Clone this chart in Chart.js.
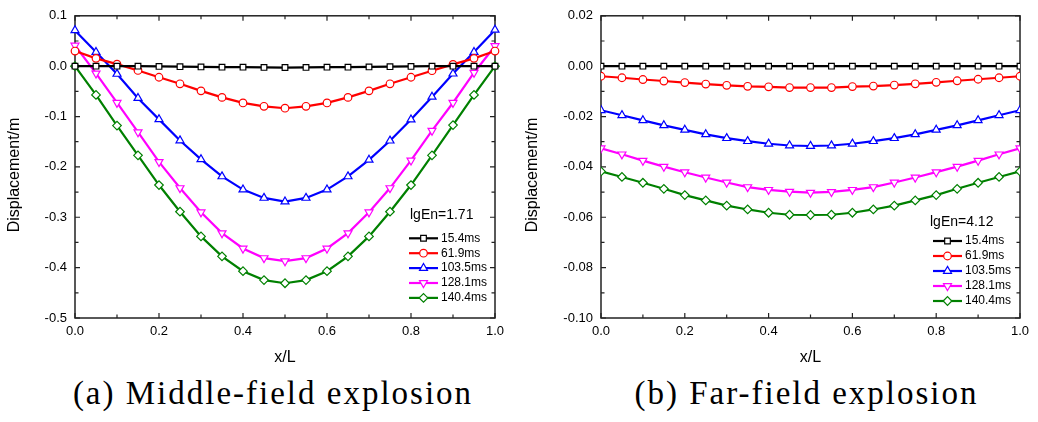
<!DOCTYPE html>
<html>
<head>
<meta charset="utf-8">
<script src="https://cdn.jsdelivr.net/npm/chart.js@4.4.1/dist/chart.umd.min.js"></script>
<style>
  body { margin: 0; background: #fff; width: 1038px; height: 422px; position: relative; overflow: hidden; }
  .panel { position: absolute; top: 0; }
  .caption {
    position: absolute; top: 377px; height: 40px; line-height: 33px;
    font-family: "Liberation Serif", "Times New Roman", serif; font-size: 33px;
    letter-spacing: 2px; white-space: nowrap; text-align: center; color: #000;
  }
</style>
</head>
<body>
<canvas id="mid" class="panel" width="519" height="375" style="left:0"></canvas>
<canvas id="far" class="panel" width="519" height="375" style="left:519px"></canvas>
<div class="caption" style="left:23px;width:500px">(a) Middle-field explosion</div>
<div class="caption" style="left:556px;width:501px">(b) Far-field explosion</div>

<script>
// positions along the beam (x/L)
const xL = [0, 0.05, 0.1, 0.15, 0.2, 0.25, 0.3, 0.35, 0.4, 0.45, 0.5,
            0.55, 0.6, 0.65, 0.7, 0.75, 0.8, 0.85, 0.9, 0.95, 1.0];
const timeLabels = ['15.4ms', '61.9ms', '103.5ms', '128.1ms', '140.4ms'];

// (a) middle-field, lgEn=1.71
const mid154  = [0, 0, 0, 0, -0.0005, -0.001, -0.0015, -0.002, -0.002, -0.0025, -0.0027,
                 -0.0025, -0.002, -0.002, -0.0015, -0.001, -0.0005, 0, 0, 0, 0];
const mid619  = [0.030, 0.0155, 0.004, -0.0085, -0.022, -0.035, -0.049, -0.062, -0.073, -0.0797, -0.0835,
                 -0.0797, -0.073, -0.062, -0.049, -0.035, -0.022, -0.009, 0.0035, 0.0155, 0.030];
const mid1035 = [0.071, 0.028, -0.0155, -0.0635, -0.1056, -0.1476, -0.185, -0.219, -0.245, -0.2616, -0.269,
                 -0.2616, -0.245, -0.219, -0.186, -0.148, -0.106, -0.061, -0.015, 0.028, 0.072];
const mid1281 = [0.041, -0.0143, -0.0726, -0.131, -0.190, -0.242, -0.290, -0.3315, -0.362, -0.381, -0.387,
                 -0.381, -0.362, -0.3315, -0.290, -0.242, -0.187, -0.128, -0.0726, -0.013, 0.040];
const mid1404 = [0, -0.057, -0.118, -0.177, -0.236, -0.289, -0.338, -0.3775, -0.407, -0.4247, -0.431,
                 -0.4247, -0.407, -0.3775, -0.338, -0.289, -0.236, -0.177, -0.117, -0.057, 0];

// (b) far-field, lgEn=4.12
const far154  = [0, 0, 0, 0, 0, 0, 0, 0, 0, 0, 0, 0, 0, 0, 0, 0, 0, 0, 0, 0, 0];
const far619  = [-0.0040, -0.0046, -0.0053, -0.0059, -0.0065, -0.0071, -0.0076, -0.0080, -0.0082, -0.0085, -0.0085,
                 -0.0085, -0.0081, -0.0079, -0.0075, -0.0070, -0.0064, -0.0058, -0.0052, -0.0046, -0.0040];
const far1035 = [-0.0175, -0.0195, -0.0215, -0.0235, -0.0253, -0.0271, -0.0286, -0.0298, -0.0308, -0.0315, -0.0317,
                 -0.0315, -0.0308, -0.0298, -0.0286, -0.0271, -0.0253, -0.0235, -0.0215, -0.0195, -0.0175];
const far1281 = [-0.0326, -0.035, -0.0375, -0.0399, -0.0421, -0.0442, -0.0462, -0.048, -0.0491, -0.0498, -0.0502,
                 -0.0499, -0.0491, -0.048, -0.0462, -0.0442, -0.0421, -0.0399, -0.0375, -0.035, -0.0326];
const far1404 = [-0.0418, -0.044, -0.0463, -0.0487, -0.0512, -0.0533, -0.0554, -0.0569, -0.0582, -0.059, -0.0591,
                 -0.059, -0.0582, -0.0569, -0.0554, -0.0533, -0.0512, -0.0487, -0.0463, -0.044, -0.0418];

// line / marker look of each series
const looks = [
  { color: '#000000', shape: 'rect',     radius: 4,   rot: 0 },
  { color: '#ff0000', shape: 'circle',   radius: 3.8, rot: 0 },
  { color: '#0000ff', shape: 'triangle', radius: 4.6, rot: 0 },
  { color: '#ff00ff', shape: 'triangle', radius: 4.6, rot: 180 },
  { color: '#008000', shape: 'rectRot',  radius: 4.3, rot: 0 }
];

Chart.defaults.font.family = '"Liberation Sans", Arial, sans-serif';
Chart.defaults.color = '#000';

// box round the plot with inward ticks on all four sides
const frameTicks = {
  id: 'frameTicks',
  beforeDatasetsDraw(chart, args, o) {
    const { ctx, chartArea: a, scales: { x, y } } = chart;
    ctx.save();
    ctx.strokeStyle = '#222';
    ctx.lineWidth = 1.5;
    ctx.strokeRect(a.left, a.top, a.right - a.left, a.bottom - a.top);
    ctx.lineWidth = 1.2;
    ctx.beginPath();
    const nx = Math.round((x.max - x.min) / o.xMinor);
    const everyX = Math.round(o.xMajor / o.xMinor);
    for (let i = 0; i <= nx; i++) {
      const px = x.getPixelForValue(x.min + i * o.xMinor);
      const len = i % everyX === 0 ? 5 : 3.5;
      ctx.moveTo(px, a.bottom); ctx.lineTo(px, a.bottom - len);
      ctx.moveTo(px, a.top); ctx.lineTo(px, a.top + len);
    }
    const ny = Math.round((y.max - y.min) / o.yMinor);
    const everyY = Math.round(o.yMajor / o.yMinor);
    for (let i = 0; i <= ny; i++) {
      const py = y.getPixelForValue(y.min + i * o.yMinor);
      const len = i % everyY === 0 ? 5 : 3.5;
      ctx.moveTo(a.left, py); ctx.lineTo(a.left + len, py);
      ctx.moveTo(a.right, py); ctx.lineTo(a.right - len, py);
    }
    ctx.stroke();
    ctx.restore();
  }
};

// in-plot key plus the two axis titles
const seriesKey = {
  id: 'seriesKey',
  afterDraw(chart, args, o) {
    const { ctx, chartArea: a } = chart;
    ctx.save();
    ctx.textBaseline = 'middle';
    ctx.textAlign = 'left';
    ctx.fillStyle = '#000';
    ctx.font = '14px "Liberation Sans", Arial, sans-serif';
    ctx.fillText(o.title, o.titleX, o.titleY);

    ctx.font = '12px "Liberation Sans", Arial, sans-serif';
    chart.data.datasets.forEach((ds, i) => {
      const yy = o.y0 + i * o.dy;
      ctx.strokeStyle = ds.borderColor;
      ctx.lineWidth = ds.borderWidth;
      ctx.beginPath();
      ctx.moveTo(o.x1, yy);
      ctx.lineTo(o.x2, yy);
      ctx.stroke();
      ctx.fillStyle = '#fff';
      ctx.lineWidth = ds.pointBorderWidth;
      Chart.helpers.drawPoint(ctx, {
        pointStyle: ds.pointStyle, radius: ds.pointRadius,
        rotation: ds.pointRotation, borderWidth: ds.pointBorderWidth
      }, (o.x1 + o.x2) / 2, yy);
      ctx.fillStyle = '#000';
      ctx.fillText(ds.label, o.x2 + 3, yy);
    });

    ctx.font = '16px "Liberation Sans", Arial, sans-serif';
    ctx.textAlign = 'center';
    ctx.fillText('x/L', (a.left + a.right) / 2, 358);
    ctx.translate(o.yTitleX, 175);
    ctx.rotate(-Math.PI / 2);
    ctx.fillText('Displacement/m', 0, 0);
    ctx.restore();
  }
};

function makeDatasets(seriesList, clip) {
  return seriesList.map((vals, i) => {
    const lk = looks[i];
    return {
      label: timeLabels[i],
      data: xL.map((x, j) => ({ x: x, y: vals[j] })),
      borderColor: lk.color,
      borderWidth: 2.2,
      tension: 0,
      pointStyle: lk.shape,
      pointRadius: lk.radius,
      pointRotation: lk.rot,
      pointBorderWidth: 1.2,
      pointBorderColor: lk.color,
      pointBackgroundColor: '#fff',
      clip: clip
    };
  });
}

function makeChart(id, cfg) {
  return new Chart(document.getElementById(id), {
    type: 'line',
    data: { datasets: makeDatasets(cfg.series, cfg.clip) },
    options: {
      responsive: false,
      animation: false,
      events: [],
      layout: { padding: { top: 10, right: cfg.padRight, bottom: 0, left: 0 } },
      plugins: {
        legend: { display: false },
        tooltip: { enabled: false },
        frameTicks: { xMinor: 0.1, xMajor: 0.2, yMinor: cfg.yStep / 2, yMajor: cfg.yStep },
        seriesKey: cfg.key
      },
      scales: {
        x: {
          type: 'linear', min: 0, max: 1,
          grid: { display: false, drawTicks: false },
          border: { display: false },
          ticks: { stepSize: 0.2, padding: 6, font: { size: 13 },
                   callback: v => (Math.abs(v) < 1e-9 ? 0 : v).toFixed(1) },
          afterFit: s => { s.height = 57; }
        },
        y: {
          min: cfg.yMin, max: cfg.yMax,
          grid: { display: false, drawTicks: false },
          border: { display: false },
          ticks: { stepSize: cfg.yStep, padding: 8, font: { size: 13 },
                   callback: v => (Math.abs(v) < 1e-9 ? 0 : v).toFixed(cfg.dec) },
          afterFit: s => { s.width = cfg.plotLeft; }
        }
      }
    },
    plugins: [frameTicks, seriesKey]
  });
}

makeChart('mid', {
  series: [mid154, mid619, mid1035, mid1281, mid1404],
  yMin: -0.5, yMax: 0.1, yStep: 0.1, dec: 1,
  plotLeft: 75, padRight: 24, clip: false,
  key: { title: 'lgEn=1.71', titleX: 410, titleY: 215.5,
         x1: 409, x2: 438, y0: 238.3, dy: 14.9, yTitleX: 15 }
});

makeChart('far', {
  series: [far154, far619, far1035, far1281, far1404],
  yMin: -0.1, yMax: 0.02, yStep: 0.02, dec: 2,
  plotLeft: 82, padRight: 18, clip: 0,
  key: { title: 'lgEn=4.12', titleX: 411, titleY: 221.7,
         x1: 414, x2: 443, y0: 241, dy: 15, yTitleX: 14 }
});
</script>
</body>
</html>
